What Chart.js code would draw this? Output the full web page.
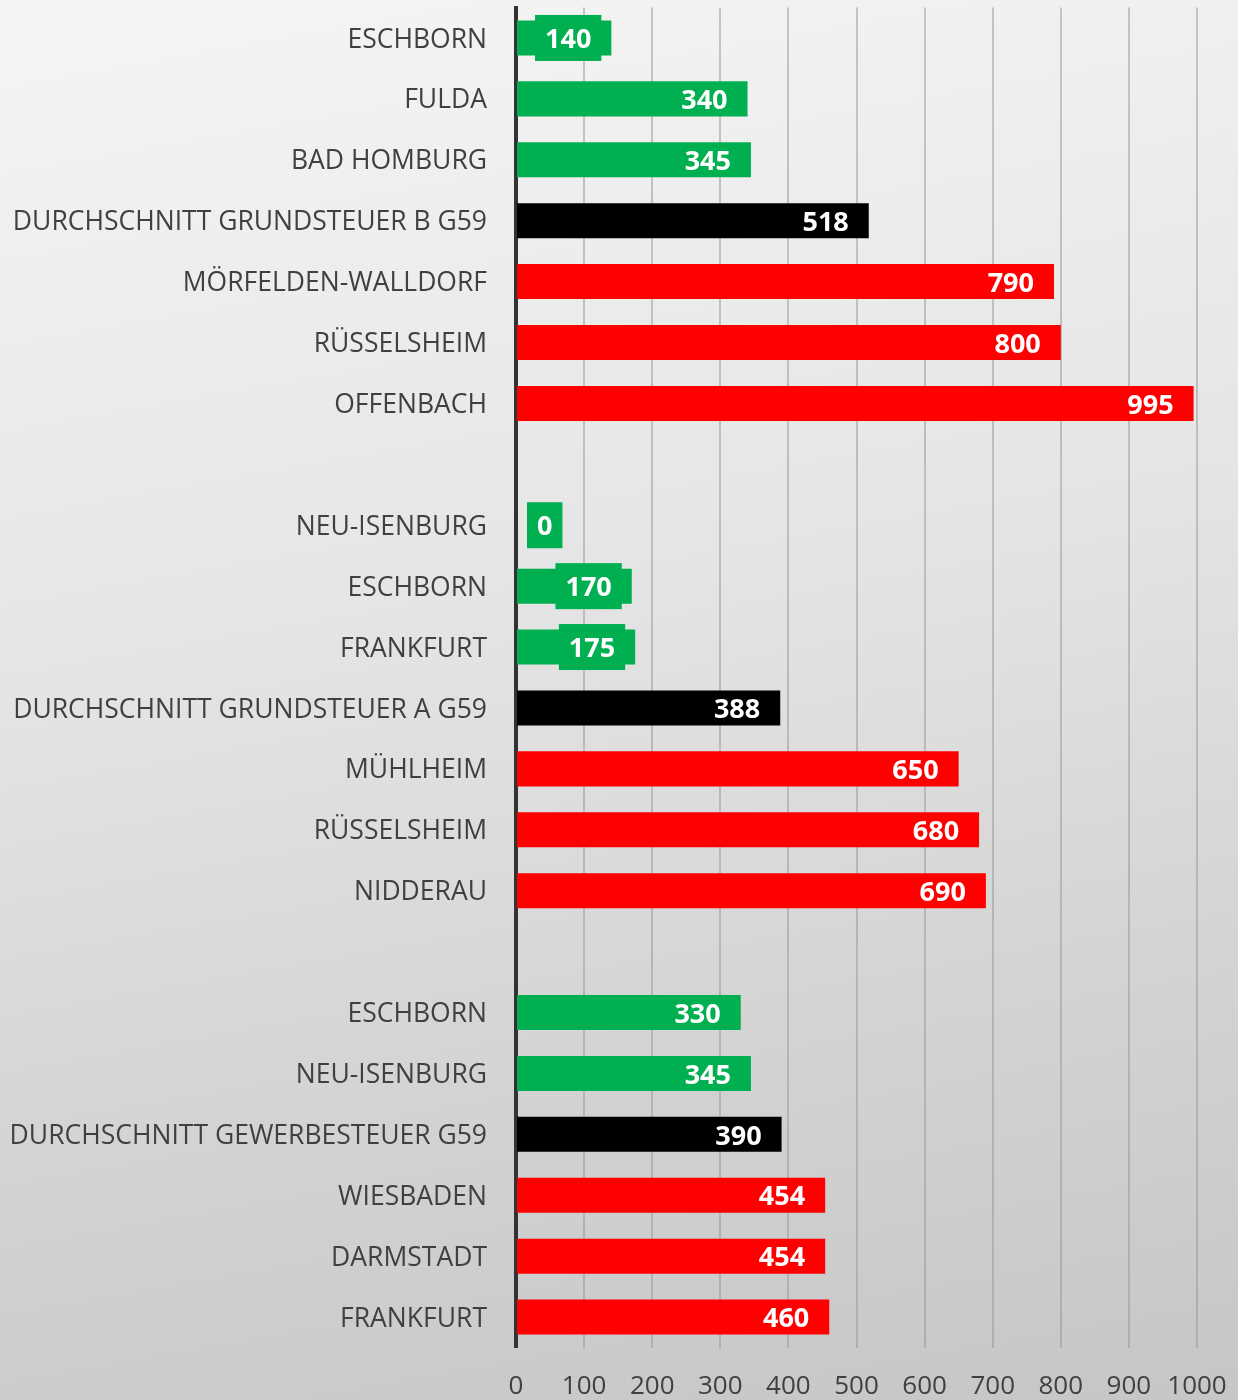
<!DOCTYPE html>
<html>
<head>
<meta charset="utf-8">
<script src="https://cdn.jsdelivr.net/npm/chart.js@4/dist/chart.umd.min.js"></script>
<style>
  html, body { margin: 0; padding: 0; }
  body {
    width: 1238px; height: 1400px; overflow: hidden;
    background: linear-gradient(170deg, #f5f5f5 0%, #e6e6e6 40%, #d2d2d2 75%, #c6c6c6 100%);
  }
  #wrap { position: relative; width: 1238px; height: 1400px; }
</style>
</head>
<body>
<div id="wrap"><canvas id="c"></canvas></div>
<script>
const categories = [
  "ESCHBORN", "FULDA", "BAD HOMBURG", "DURCHSCHNITT GRUNDSTEUER B G59",
  "MÖRFELDEN-WALLDORF", "RÜSSELSHEIM", "OFFENBACH", "",
  "NEU-ISENBURG", "ESCHBORN", "FRANKFURT", "DURCHSCHNITT GRUNDSTEUER A G59",
  "MÜHLHEIM", "RÜSSELSHEIM", "NIDDERAU", "",
  "ESCHBORN", "NEU-ISENBURG", "DURCHSCHNITT GEWERBESTEUER G59",
  "WIESBADEN", "DARMSTADT", "FRANKFURT"
];
const values = [
  140, 340, 345, 518, 790, 800, 995, null,
  0, 170, 175, 388, 650, 680, 690, null,
  330, 345, 390, 454, 454, 460
];
// g = niedrig (grün), a = Durchschnitt (schwarz), r = hoch (rot)
const groups = [
  "g","g","g","a","r","r","r","",
  "g","g","g","a","r","r","r","",
  "g","g","a","r","r","r"
];
const xTicks = [0, 100, 200, 300, 400, 500, 600, 700, 800, 900, 1000];

const palette = { g: "#00b050", a: "#000000", r: "#ff0000", "": "rgba(0,0,0,0)" };
const barColors = groups.map(k => palette[k]);

const valueLabels = {
  id: "valueLabels",
  afterDatasetsDraw(chart) {
    const ctx = chart.ctx;
    const meta = chart.getDatasetMeta(0);
    const left = chart.chartArea.left;
    ctx.save();
    ctx.font = "bold 27px 'Open Sans'";
    ctx.textBaseline = "middle";
    ctx.textAlign = "left";
    meta.data.forEach((bar, i) => {
      const v = values[i];
      if (v === null || v === undefined) return;
      const txt = String(v);
      const w = ctx.measureText(txt).width;
      let textRight = bar.x - 20;
      let boxLeft = textRight - w - 10;
      if (boxLeft < left + 11) {
        boxLeft = left + 11;
        textRight = boxLeft + 10 + w;
      }
      if (v < 200) {
        ctx.fillStyle = barColors[i];
        ctx.fillRect(boxLeft, bar.y - 23, w + 20, 46);
      }
      ctx.fillStyle = "#ffffff";
      ctx.fillText(txt, textRight - w, bar.y + 2.5);
    });
    ctx.restore();
  }
};

new Chart(document.getElementById("c"), {
  type: "bar",
  data: {
    labels: categories,
    datasets: [{
      data: values,
      backgroundColor: barColors,
      borderWidth: 0,
      barPercentage: 0.575,
      categoryPercentage: 1.0
    }]
  },
  options: {
    indexAxis: "y",
    responsive: true,
    maintainAspectRatio: false,
    animation: false,
    events: [],
    layout: { padding: { top: 7.5, right: 41, left: 0, bottom: 0 } },
    plugins: { legend: { display: false }, tooltip: { enabled: false } },
    scales: {
      x: {
        min: 0, max: 1000,
        afterBuildTicks(scale) { scale.ticks = xTicks.map(v => ({ value: v })); },
        afterFit(scale) {
          scale.height = 52.5;
          scale.paddingLeft = 0; scale.paddingRight = 0;
        },
        grid: { color: "rgba(150,150,150,0.5)", lineWidth: 2, drawTicks: false },
        border: { display: false },
        ticks: {
          color: "#404040",
          font: { family: "'Open Sans'", size: 26 },
          padding: 23,
          maxRotation: 0,
          autoSkip: false,
          callback: (v) => String(v)
        }
      },
      y: {
        afterFit(scale) {
          scale.width = 516;
          scale.paddingTop = 0; scale.paddingBottom = 0;
        },
        grid: { display: false, drawTicks: false },
        border: { display: true, color: "#333333", width: 4 },
        ticks: {
          color: "#404040",
          font: { family: "'Open Sans'", size: 26.5 },
          padding: 29,
          labelOffset: 2,
          autoSkip: false
        }
      }
    }
  },
  plugins: [valueLabels]
});
</script>
</body>
</html>
